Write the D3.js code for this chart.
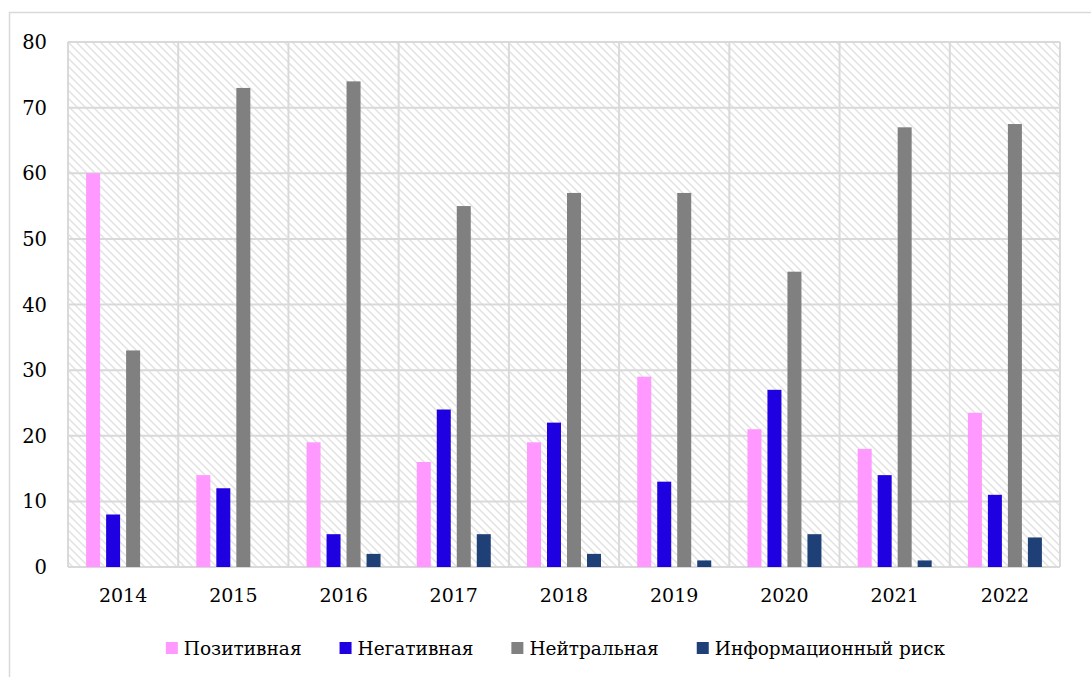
<!DOCTYPE html>
<html lang="ru"><head>
<meta charset="utf-8"/>
<script src="https://d3js.org/d3.v7.min.js"></script>
<style>
  body { margin: 0; padding: 0; background: #fff; width: 1091px; height: 677px; overflow: hidden; }
  svg text { fill: #000; font-family: 'DejaVu Serif', serif; }
</style>
</head>
<body>
<div id="chart"></div>
<script>
// Data
const years = ["2014", "2015", "2016", "2017", "2018", "2019", "2020", "2021", "2022"];
const positive = [60, 14, 19, 16, 19, 29, 21, 18, 23.5];
const negative = [8, 12, 5, 24, 22, 13, 27, 14, 11];
const neutral = [33, 73, 74, 55, 57, 57, 45, 67, 67.5];
const infoRisk = [0, 0, 2, 5, 2, 1, 5, 1, 4.5];
const seriesNames = ["Позитивная", "Негативная", "Нейтральная", "Информационный риск"];
const yTicks = [0, 10, 20, 30, 40, 50, 60, 70, 80];

const colors = ["#ff99ff", "#1f00e0", "#808080", "#1f3f77"];
const allSeries = [positive, negative, neutral, infoRisk];

const W = 1091, H = 677;
const margin = {top: 42, right: 31, bottom: 110, left: 68};
const width = W - margin.left - margin.right;
const height = H - margin.top - margin.bottom;

const svg = d3.select("#chart").append("svg")
    .attr("width", W)
    .attr("height", H);

// outer frame (runs off the right and bottom edges)
svg.append("rect")
    .attr("x", 9.5).attr("y", 12.5)
    .attr("width", W).attr("height", H)
    .attr("fill", "none")
    .attr("stroke", "#d9d9d9")
    .attr("stroke-width", 1.5);

// hatch pattern for the plot area
const defs = svg.append("defs");
const pat = defs.append("pattern")
    .attr("id", "hatch")
    .attr("patternUnits", "userSpaceOnUse")
    .attr("width", 8).attr("height", 8);
pat.append("path")
    .attr("d", "M-2,-2 L10,10 M-2,6 L2,10 M6,-2 L10,2")
    .attr("stroke", "#e2e2e2")
    .attr("stroke-width", 1.5);

const g = svg.append("g")
    .attr("transform", `translate(${margin.left},${margin.top})`);

const x = d3.scaleBand()
    .domain(years)
    .range([0, width])
    .padding(0);

const y = d3.scaleLinear()
    .domain([0, 80])
    .range([height, 0]);

g.append("rect")
    .attr("width", width).attr("height", height)
    .attr("fill", "url(#hatch)");

// horizontal gridlines
g.selectAll(".hgrid")
    .data(yTicks)
    .enter().append("line")
    .attr("x1", 0).attr("x2", width)
    .attr("y1", d => y(d)).attr("y2", d => y(d))
    .attr("stroke", "#d9d9d9")
    .attr("stroke-width", 2);

// vertical gridlines at category boundaries
g.selectAll(".vgrid")
    .data(years.concat(["end"]))
    .enter().append("line")
    .attr("x1", (d, i) => i * x.step()).attr("x2", (d, i) => i * x.step())
    .attr("y1", 0).attr("y2", height)
    .attr("stroke", "#d9d9d9")
    .attr("stroke-width", 2);

// bars
const barW = 14, barStep = 20;
const inner = d3.scaleBand()
    .domain(d3.range(4))
    .range([0, barStep * 4]);

allSeries.forEach((vals, s) => {
    g.selectAll(".bar" + s)
        .data(vals)
        .enter().append("rect")
        .attr("x", (d, i) => x(years[i]) + x.bandwidth() / 2 - (barStep * 4 - (barStep - barW)) / 2 + inner(s))
        .attr("y", d => y(d))
        .attr("width", barW)
        .attr("height", d => height - y(d))
        .attr("fill", colors[s]);
});

// Y axis labels
g.selectAll(".ylab")
    .data(yTicks)
    .enter().append("text")
    .attr("x", -21)
    .attr("y", d => y(d) + 7)
    .attr("text-anchor", "end")
    .style("font-size", "19.5px")
    .text(d => d);

// X axis labels
g.selectAll(".xlab")
    .data(years)
    .enter().append("text")
    .attr("x", d => x(d) + x.bandwidth() / 2)
    .attr("y", height + 35)
    .attr("text-anchor", "middle")
    .style("font-size", "19px")
    .text(d => d);

// legend
const legend = svg.append("g");
let lx = 0;
const gap = 38;
seriesNames.forEach((name, i) => {
    const item = legend.append("g").attr("transform", `translate(${lx},0)`);
    item.append("rect")
        .attr("x", 0).attr("y", -13)
        .attr("width", 12).attr("height", 12)
        .attr("fill", colors[i]);
    const t = item.append("text")
        .attr("x", 18).attr("y", 0)
        .style("font-size", "18.5px")
        .text(name);
    lx += 18 + t.node().getComputedTextLength() + gap;
});
const legW = lx - gap;
legend.attr("transform", `translate(${(163 + 948) / 2 - legW / 2},655)`);
</script>
</body></html>
